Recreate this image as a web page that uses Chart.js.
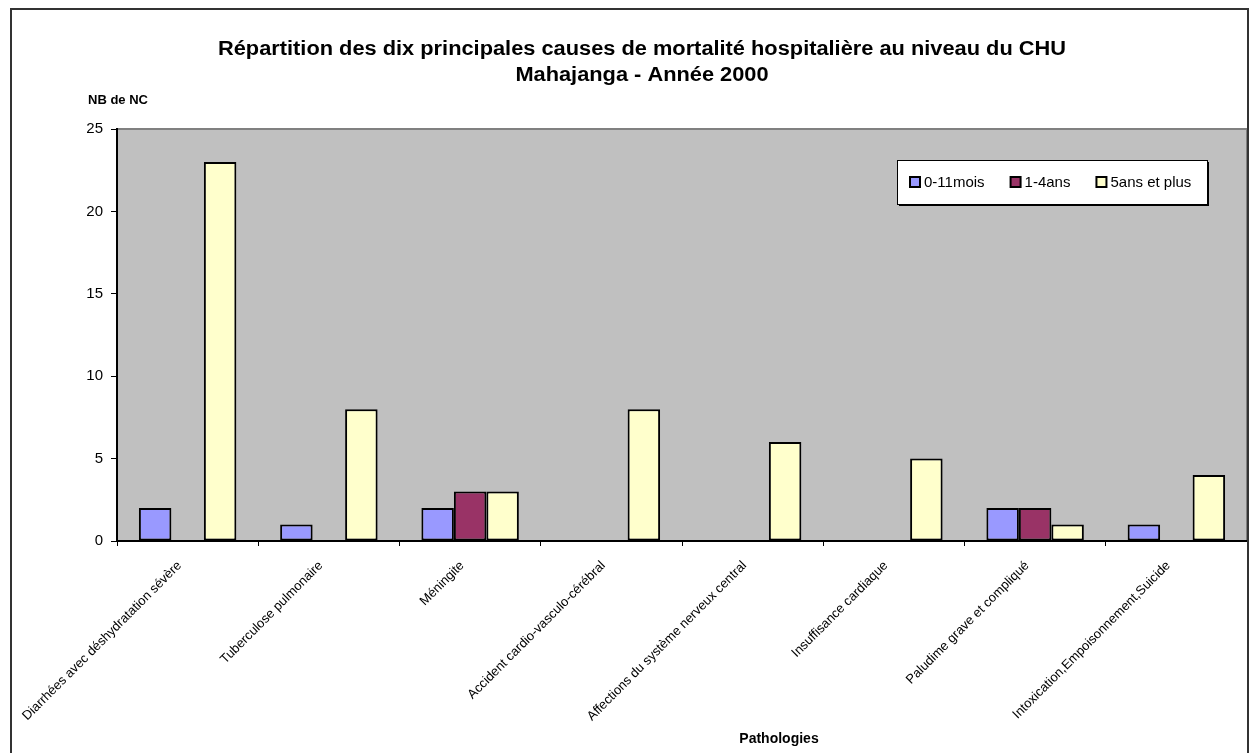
<!DOCTYPE html>
<html lang="fr">
<head>
<meta charset="utf-8">
<title>Mortalité hospitalière - CHU Mahajanga 2000</title>
<script src="https://cdn.jsdelivr.net/npm/chart.js@4.4.1/dist/chart.umd.min.js"></script>
<style>
  html, body { margin: 0; padding: 0; background: #fff; }
  canvas { display: block; }
</style>
</head>
<body>
<canvas id="graphe" width="1251" height="753"></canvas>
<script>
// Dix principales causes de décès, par tranche d'âge
const pathologies = [
  'Diarrhées avec déshydratation sévère',
  'Tuberculose pulmonaire',
  'Méningite',
  'Accident cardio-vasculo-cérébral',
  'Affections du système nerveux central',
  'Insuffisance cardiaque',
  'Paludime grave et compliqué',
  'Intoxication,Empoisonnement,Suicide'
];
const tranches = ['0-11mois', '1-4ans', '5ans et plus'];
const deces0a11mois = [2, 1, 2, 0, 0, 0, 2, 1];
const deces1a4ans   = [0, 0, 3, 0, 0, 0, 2, 0];
const deces5ansPlus = [23, 8, 3, 8, 6, 5, 1, 4];
const yMax = 25;
const yPas = 5;

const titre = ['Répartition des dix principales causes de mortalité hospitalière au niveau du CHU',
               'Mahajanga - Année 2000'];
const titreY = 'NB de NC';
const titreX = 'Pathologies';

const couleurs = ['#9999FF', '#993366', '#FFFFCC'];
const police = '"Liberation Sans", Arial, sans-serif';

// texte un peu étiré en largeur, comme dans le graphique Excel d'origine
function texteEtire(ctx, txt, x, y, etirement) {
  ctx.save();
  ctx.translate(x, y);
  ctx.scale(etirement, 1);
  ctx.fillText(txt, 0, 0);
  ctx.restore();
}

// fond gris de la zone de tracé, cadre, titres et légende dessinés à la main
const cadre = {
  id: 'cadre',
  beforeDraw(chart) {
    const { ctx, chartArea: a } = chart;
    ctx.save();
    ctx.fillStyle = '#fff';
    ctx.fillRect(0, 0, chart.width, chart.height);
    ctx.fillStyle = '#C0C0C0';
    ctx.fillRect(a.left, a.top, a.right - a.left, a.bottom - a.top);
    ctx.strokeStyle = '#808080';
    ctx.lineWidth = 2;
    ctx.beginPath();
    ctx.moveTo(a.left, a.top);
    ctx.lineTo(a.right, a.top);
    ctx.lineTo(a.right, a.bottom);
    ctx.stroke();
    ctx.restore();
  },
  afterDraw(chart) {
    const { ctx } = chart;
    ctx.save();

    // bordure extérieure
    ctx.strokeStyle = '#333';
    ctx.lineWidth = 2;
    ctx.strokeRect(11, 9, 1237, 760);

    ctx.fillStyle = '#000';
    ctx.textAlign = 'center';
    ctx.textBaseline = 'middle';
    ctx.font = 'bold 20px ' + police;
    texteEtire(ctx, titre[0], 642, 49, 1.09);
    texteEtire(ctx, titre[1], 642, 75, 1.09);

    ctx.font = 'bold 13px ' + police;
    ctx.textAlign = 'left';
    ctx.fillText(titreY, 88, 100);
    ctx.font = 'bold 14px ' + police;
    ctx.textAlign = 'center';
    ctx.fillText(titreX, 779, 739);

    // légende
    const lx = 897, ly = 160, lw = 310, lh = 44;
    ctx.fillStyle = '#000';
    ctx.fillRect(lx + 2, ly + 2, lw, lh);
    ctx.fillStyle = '#fff';
    ctx.fillRect(lx, ly, lw, lh);
    ctx.strokeStyle = '#000';
    ctx.lineWidth = 1;
    ctx.strokeRect(lx + 0.5, ly + 0.5, lw, lh);

    ctx.font = '15px ' + police;
    ctx.textAlign = 'left';
    let x = 910;
    const yc = ly + 22;
    chart.data.datasets.forEach(ds => {
      ctx.fillStyle = ds.backgroundColor;
      ctx.fillRect(x, yc - 5, 10, 10);
      ctx.strokeStyle = '#000';
      ctx.lineWidth = 2;
      ctx.strokeRect(x, yc - 5, 10, 10);
      ctx.fillStyle = '#000';
      ctx.fillText(ds.label, x + 14, yc + 1);
      x += 14 + ctx.measureText(ds.label).width + 26;
    });
    ctx.restore();
  }
};

new Chart(document.getElementById('graphe'), {
  type: 'bar',
  data: {
    labels: pathologies,
    datasets: [deces0a11mois, deces1a4ans, deces5ansPlus].map((vals, i) => ({
      label: tranches[i],
      data: vals,
      backgroundColor: couleurs[i],
      borderColor: '#000',
      borderWidth: 2,
      borderSkipped: false,
      categoryPercentage: 0.69,
      barPercentage: 1
    }))
  },
  options: {
    responsive: false,
    animation: false,
    layout: { padding: { top: 129, right: 4, bottom: 0, left: 0 } },
    plugins: {
      legend: { display: false },
      title: { display: false },
      tooltip: { enabled: false }
    },
    scales: {
      x: {
        offset: true,
        border: { color: '#000', width: 2 },
        grid: { offset: true, drawOnChartArea: false, drawTicks: true, tickLength: 5, color: '#000' },
        ticks: {
          autoSkip: false,
          minRotation: 45,
          maxRotation: 45,
          padding: 12,
          labelOffset: -8,
          color: '#000',
          font: { family: police, size: 13 }
        },
        afterFit(scale) {
          scale.height = 212;
          scale.paddingLeft = 0;
          scale.paddingRight = 0;
        }
      },
      y: {
        min: 0,
        max: yMax,
        border: { color: '#000', width: 2 },
        grid: { drawOnChartArea: false, drawTicks: true, tickLength: 6, color: '#000' },
        ticks: {
          stepSize: yPas,
          padding: 8,
          color: '#000',
          font: { family: police, size: 15 }
        },
        afterFit(scale) {
          scale.width = 117;
          scale.paddingTop = 0;
          scale.paddingBottom = 0;
        }
      }
    }
  },
  plugins: [cadre]
});
</script>
</body>
</html>
